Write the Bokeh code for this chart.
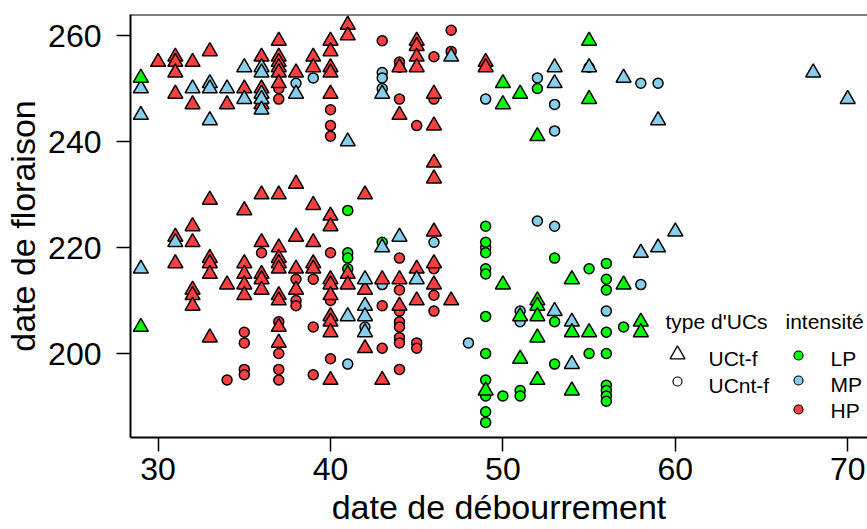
import math
from bokeh.plotting import figure
from bokeh.models import Range1d, FixedTicker, Label, Span
from bokeh.embed import file_html
from bokeh.resources import INLINE

# ---------------- data ----------------
# UCt-f (triangles)
tri_LP_x = [29, 29, 49, 50, 50, 50, 51, 51, 51, 52, 52, 52, 52, 52, 52, 54, 54, 54, 55, 55, 55, 57, 58, 58]
tri_LP_y = [252, 205, 193, 251, 247, 213, 249, 207, 199, 241, 210, 209, 207, 203, 195, 214, 204, 193, 259, 248, 204, 213, 206, 204]

tri_MP_x = [29, 29, 29, 31, 32, 33, 33, 33, 34, 35, 35, 36, 36, 36, 36, 36, 38, 41, 41, 42, 42, 42, 42,
            43, 43, 44, 45, 47, 53, 53, 53, 54, 54, 55, 57, 58, 59, 59, 60, 68, 70]
tri_MP_y = [250, 245, 216, 221, 250, 251, 250, 244, 250, 254, 248, 254, 253, 249, 248, 246, 249, 240, 207, 214, 209, 207, 204,
            249, 220, 222, 214, 256, 254, 251, 208, 206, 198, 254, 252, 219, 244, 220, 223, 253, 248]

tri_HP_x = [30,
            31, 31, 31, 31, 31, 31,
            32, 32, 32, 32, 32, 32, 32,
            33, 33, 33, 33, 33, 33,
            34, 34,
            35, 35, 35, 35, 35, 35,
            36, 36, 36, 36, 36, 36, 36, 36,
            37, 37, 37, 37, 37, 37, 37, 37, 37, 37, 37, 37, 37, 37, 37,
            38, 38, 38, 38, 38,
            39, 39, 39, 39, 39, 39,
            40, 40, 40, 40, 40, 40, 40, 40, 40, 40, 40, 40, 40, 40,
            41, 41, 41, 41,
            42, 42, 42,
            43, 43,
            44, 44, 44, 44,
            45, 45, 45, 45, 45, 45,
            46, 46, 46, 46, 46, 46, 46,
            47,
            49, 49]
tri_HP_y = [255,
            256, 255, 253, 249, 222, 217,
            255, 247, 224, 221, 212, 211, 209,
            257, 229, 218, 217, 215, 203,
            247, 213,
            250, 227, 217, 215, 213, 211,
            256, 250, 247, 230, 221, 215, 214, 212,
            259, 256, 255, 254, 253, 251, 230, 220, 218, 217, 216, 211, 210, 205, 202,
            253, 232, 222, 216, 212,
            256, 254, 228, 221, 217, 216,
            259, 257, 254, 253, 249, 226, 224, 214, 213, 211, 207, 206, 204, 195,
            262, 260, 215, 213,
            230, 212, 201,
            214, 195,
            254, 245, 214, 209,
            259, 258, 256, 254, 216, 210,
            249, 243, 236, 233, 223, 217, 213,
            210,
            255, 254]

# UCnt-f (circles)
cir_LP_x = [41, 41, 41, 41, 43,
            49, 49, 49, 49, 49, 49, 49, 49, 49, 49, 49,
            50, 51, 51, 52, 53, 53, 53, 55, 55, 55,
            56, 56, 56, 56, 56, 56, 56, 56, 56, 57]
cir_LP_y = [227, 219, 218, 216, 221,
            224, 221, 219, 216, 215, 207, 200, 195, 192, 189, 187,
            192, 193, 192, 250, 218, 206, 198, 254, 216, 200,
            217, 214, 212, 204, 200, 194, 193, 192, 191, 205]

cir_MP_x = [38, 39, 41, 42, 43, 43, 43, 43, 44, 46, 48, 49, 49, 51, 51, 52, 52, 53, 53, 53, 56, 58, 58, 59]
cir_MP_y = [251, 252, 198, 205, 253, 252, 250, 213, 254, 221, 202, 248, 220, 208, 206, 252, 225, 247, 242, 224, 208, 251, 213, 251]

cir_HP_x = [34, 35, 35, 35, 35, 36,
            37, 37, 37, 37, 37, 37,
            38, 38, 38, 39, 39, 39,
            40, 40, 40, 40, 40, 40,
            43, 43, 43,
            44, 44, 44, 44, 44, 44, 44, 44, 44, 44,
            45, 45, 45,
            46, 46, 46, 46, 46,
            47, 47]
cir_HP_y = [195, 204, 202, 197, 196, 219,
            250, 248, 206, 200, 197, 195,
            214, 210, 209, 214, 205, 196,
            246, 243, 241, 219, 210, 199,
            259, 209, 201,
            255, 248, 218, 212, 208, 206, 205, 203, 202, 197,
            243, 202, 201,
            256, 248, 216, 211, 208,
            261, 257]

x_ticks = [30, 40, 50, 60, 70]
y_ticks = [200, 220, 240, 260]
x_title = "date de débourrement"
y_title = "date de floraison"
legend_type_title = "type d'UCs"
legend_type_labels = ["UCt-f", "UCnt-f"]
legend_int_title = "intensité"
legend_int_labels = ["LP", "MP", "HP"]

# ---------------- styling / layout ----------------
C_LP = "#00FF00"
C_MP = "#87CEEB"
C_HP = "#FF4040"
FONT = "Liberation Sans"

W, H = 867, 529
BL, BR, BT, BB = 130, 0, 14, 92
FW = W - BL - BR
FH = H - BT - BB
X0 = 30 - (157.6 - BL) / 17.24
X1 = X0 + FW / 17.24
Y1 = 260 + (35 - BT) / 5.3
Y0 = Y1 - FH / 5.3


def px2x(px):
    return X0 + (px - BL) * (X1 - X0) / FW


def py2y(py):
    return Y1 - (py - BT) * (Y1 - Y0) / FH


p = figure(width=W, height=H, x_range=Range1d(X0, X1), y_range=Range1d(Y0, Y1),
           output_backend="svg", toolbar_location=None,
           min_border_left=BL, min_border_right=BR, min_border_top=BT, min_border_bottom=BB)
p.outline_line_color = None
p.grid.visible = False
p.background_fill_color = "white"
p.border_fill_color = "white"

for ax, ticks, so in ((p.xaxis[0], x_ticks, 6), (p.yaxis[0], y_ticks, 15)):
    ax.ticker = FixedTicker(ticks=ticks)
    ax.axis_line_width = 2
    ax.axis_line_color = "black"
    ax.major_tick_line_width = 1.5
    ax.major_tick_line_color = "black"
    ax.major_tick_out = 14
    ax.major_tick_in = 0
    ax.minor_tick_line_color = None
    ax.major_label_standoff = so
    ax.major_label_text_font = FONT
    ax.major_label_text_font_size = "32px"
    ax.major_label_text_color = "black"
    ax.axis_label_text_font = FONT
    ax.axis_label_text_font_size = "34px"
    ax.axis_label_text_font_style = "normal"
    ax.axis_label_text_color = "black"

p.xaxis[0].axis_label = x_title
p.xaxis[0].axis_label_standoff = 5
p.yaxis[0].axis_label = y_title
p.yaxis[0].axis_label_standoff = 3

p.add_layout(Span(location=Y1, dimension="width", line_color="black", line_width=2))

TRI = 15
CIR = 10
LW = 1.5

p.scatter(cir_HP_x, cir_HP_y, marker="circle", size=CIR, fill_color=C_HP, line_color="black", line_width=LW)
p.scatter(cir_MP_x, cir_MP_y, marker="circle", size=CIR, fill_color=C_MP, line_color="black", line_width=LW)
p.scatter(cir_LP_x, cir_LP_y, marker="circle", size=CIR, fill_color=C_LP, line_color="black", line_width=LW)
p.scatter(tri_HP_x, tri_HP_y, marker="triangle", size=TRI, fill_color=C_HP, line_color="black", line_width=LW)
p.scatter(tri_MP_x, tri_MP_y, marker="triangle", size=TRI, fill_color=C_MP, line_color="black", line_width=LW)
p.scatter(tri_LP_x, tri_LP_y, marker="triangle", size=TRI, fill_color=C_LP, line_color="black", line_width=LW)

# legend
LFS = "21px"
p.add_layout(Label(x=px2x(665), y=py2y(321), text=legend_type_title, text_font=FONT, text_font_size=LFS,
                   text_align="left", text_baseline="middle", text_color="black"))
p.add_layout(Label(x=px2x(785), y=py2y(321), text=legend_int_title, text_font=FONT, text_font_size=LFS,
                   text_align="left", text_baseline="middle", text_color="black"))
type_rows = [358, 385]
for lab, ty in zip(legend_type_labels, type_rows):
    p.add_layout(Label(x=px2x(708), y=py2y(ty), text=lab, text_font=FONT, text_font_size=LFS,
                       text_align="left", text_baseline="middle", text_color="black"))
int_rows = [358, 384, 410]
for lab, ty in zip(legend_int_labels, int_rows):
    p.add_layout(Label(x=px2x(830), y=py2y(ty), text=lab, text_font=FONT, text_font_size=LFS,
                       text_align="left", text_baseline="middle", text_color="black"))
p.scatter([px2x(677)], [py2y(354)], marker="triangle", size=TRI, fill_color=None, line_color="black", line_width=1.3)
p.scatter([px2x(677)], [py2y(381)], marker="circle", size=9, fill_color=None, line_color="black", line_width=1.2)
p.scatter([px2x(798)] * 3, [py2y(355), py2y(380), py2y(409)], marker="circle", size=9,
          fill_color=[C_LP, C_MP, C_HP], line_color="black", line_width=1.2)

open("out.html", "w").write(file_html(p, INLINE))
